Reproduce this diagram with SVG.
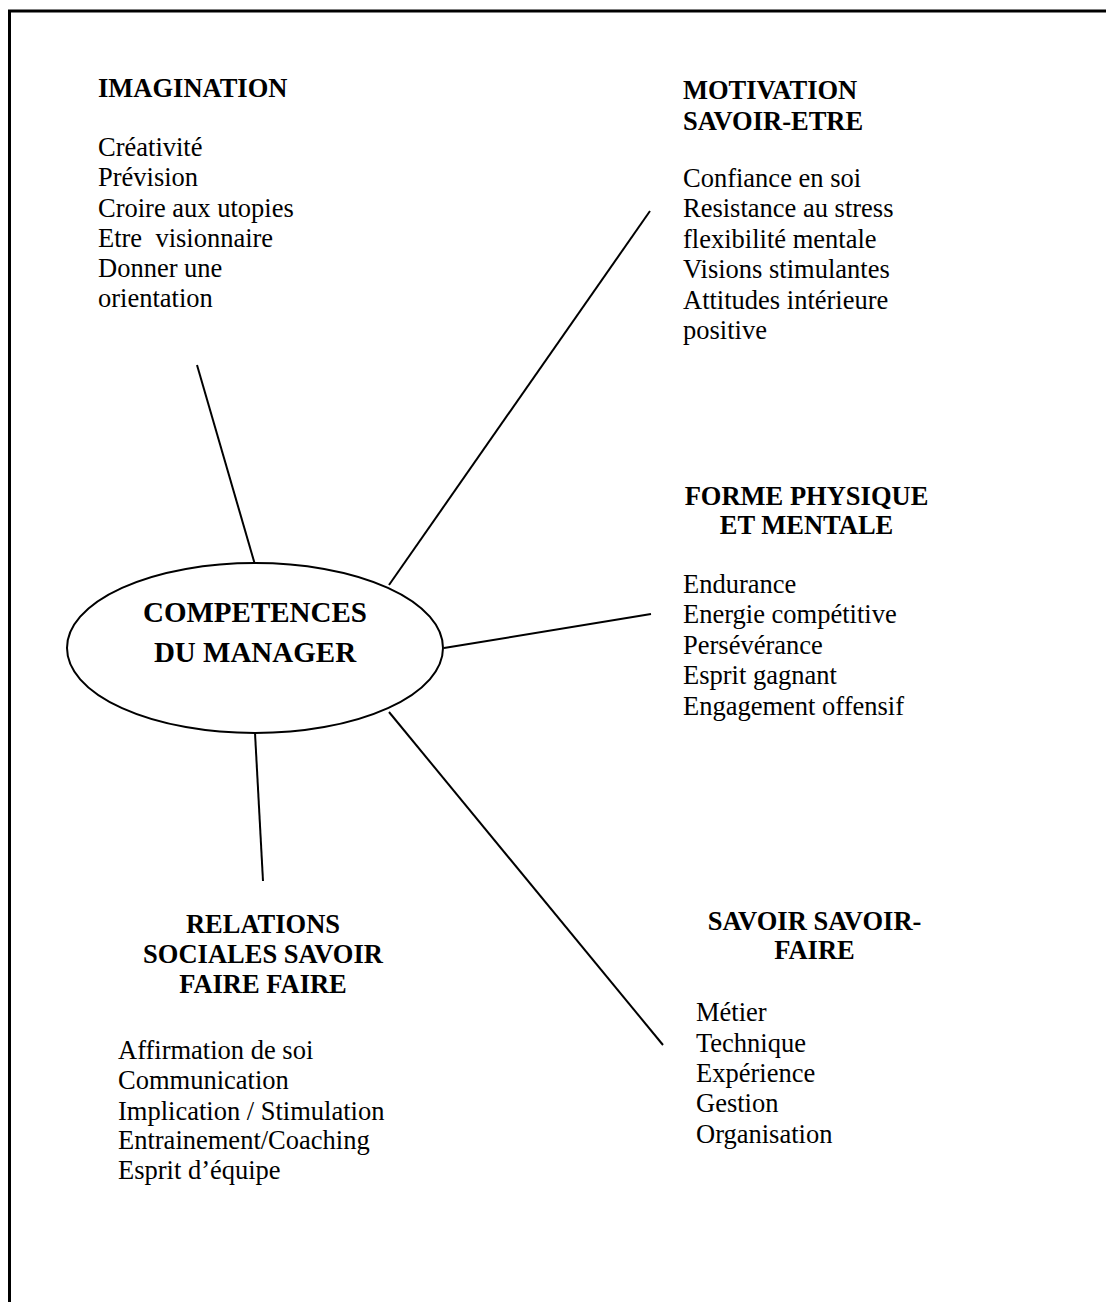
<svg xmlns="http://www.w3.org/2000/svg" width="1106" height="1302" viewBox="0 0 1106 1302">
  <style>
    .frame { fill: none; stroke: #000; stroke-width: 3; }
    .link { stroke: #000; stroke-width: 2; fill: none; }
    .hub { fill: #fff; stroke: #000; stroke-width: 2; }
    text { font-family: "Liberation Serif", "Times New Roman", serif; fill: #000; }
    .head { font-size: 26.5px; font-weight: bold; }
    .hubtxt { font-size: 29px; font-weight: bold; text-anchor: middle; }
    .item { font-size: 26.5px; }
    .mid { text-anchor: middle; }
  </style>

  <rect width="1106" height="1302" fill="#fff"/>

  <!-- page frame: top and left edges -->
  <path class="frame" d="M9.5 1302 V11 H1106"/>

  <!-- spokes from the hub to each competence group -->
  <g id="connectors">
    <line class="link" x1="197" y1="365" x2="254.5" y2="563"/>
    <line class="link" x1="389" y1="585" x2="650" y2="211"/>
    <line class="link" x1="444" y1="648" x2="651" y2="614"/>
    <line class="link" x1="389" y1="712" x2="663" y2="1045"/>
    <line class="link" x1="255" y1="733" x2="263" y2="881"/>
  </g>

  <g id="hub">
    <ellipse class="hub" cx="255" cy="648" rx="188" ry="85"/>
    <text class="hubtxt" x="255" y="622">COMPETENCES</text>
    <text class="hubtxt" x="255" y="662">DU MANAGER</text>
  </g>

  <g id="imagination">
    <text class="head" x="98" y="97">IMAGINATION</text>
    <text class="item" x="98" y="156">Créativité</text>
    <text class="item" x="98" y="186">Prévision</text>
    <text class="item" x="98" y="217">Croire aux utopies</text>
    <text class="item" x="98" y="247" xml:space="preserve">Etre  visionnaire</text>
    <text class="item" x="98" y="277">Donner une</text>
    <text class="item" x="98" y="307">orientation</text>
  </g>

  <g id="motivation">
    <text class="head" x="683" y="99">MOTIVATION</text>
    <text class="head" x="683" y="130">SAVOIR-ETRE</text>
    <text class="item" x="683" y="187">Confiance en soi</text>
    <text class="item" x="683" y="217">Resistance au stress</text>
    <text class="item" x="683" y="248">flexibilité mentale</text>
    <text class="item" x="683" y="278">Visions stimulantes</text>
    <text class="item" x="683" y="309">Attitudes intérieure</text>
    <text class="item" x="683" y="339">positive</text>
  </g>

  <g id="forme">
    <text class="head mid" x="806.5" y="505">FORME PHYSIQUE</text>
    <text class="head mid" x="806.5" y="534">ET MENTALE</text>
    <text class="item" x="683" y="593">Endurance</text>
    <text class="item" x="683" y="623">Energie compétitive</text>
    <text class="item" x="683" y="654">Persévérance</text>
    <text class="item" x="683" y="684">Esprit gagnant</text>
    <text class="item" x="683" y="715">Engagement offensif</text>
  </g>

  <g id="savoir-faire">
    <text class="head mid" x="814.5" y="930">SAVOIR SAVOIR-</text>
    <text class="head mid" x="814.5" y="959">FAIRE</text>
    <text class="item" x="696" y="1021">Métier</text>
    <text class="item" x="696" y="1052">Technique</text>
    <text class="item" x="696" y="1082">Expérience</text>
    <text class="item" x="696" y="1112">Gestion</text>
    <text class="item" x="696" y="1143">Organisation</text>
  </g>

  <g id="relations">
    <text class="head mid" x="263" y="933">RELATIONS</text>
    <text class="head mid" x="263" y="963">SOCIALES SAVOIR</text>
    <text class="head mid" x="263" y="993">FAIRE FAIRE</text>
    <text class="item" x="118" y="1059">Affirmation de soi</text>
    <text class="item" x="118" y="1089">Communication</text>
    <text class="item" x="118" y="1120">Implication / Stimulation</text>
    <text class="item" x="118" y="1149">Entrainement/Coaching</text>
    <text class="item" x="118" y="1179">Esprit d’équipe</text>
  </g>
</svg>
